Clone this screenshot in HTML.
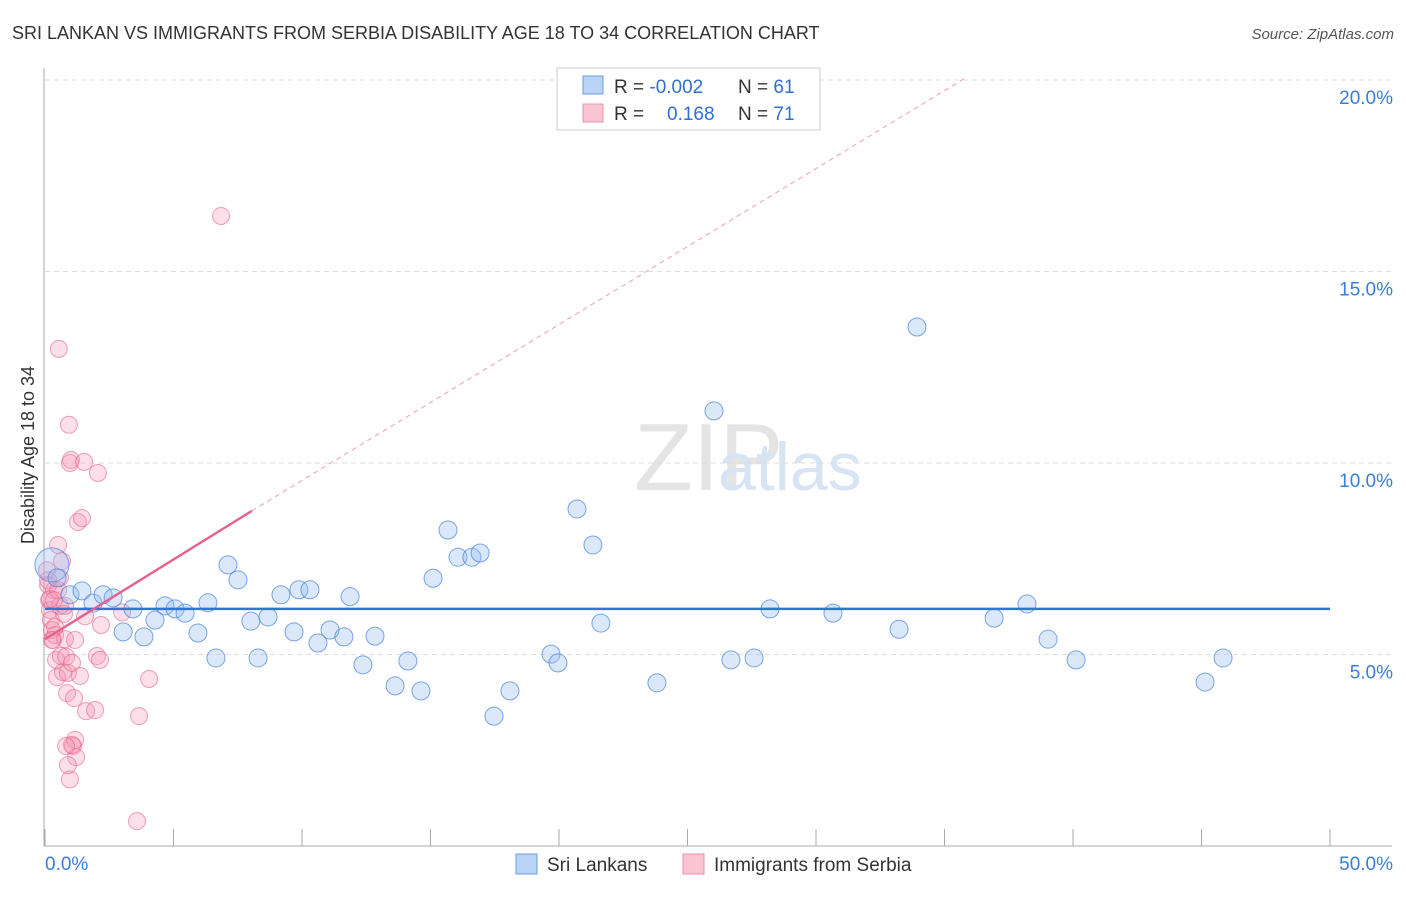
<!DOCTYPE html>
<html><head><meta charset="utf-8"><style>
body{margin:0;background:#fff;font-family:"Liberation Sans",sans-serif;}
svg text{font-family:"Liberation Sans",sans-serif;}
</style></head><body>
<svg width="1406" height="892" xmlns="http://www.w3.org/2000/svg">
<text x="12" y="39" font-size="18" fill="#333">SRI LANKAN VS IMMIGRANTS FROM SERBIA DISABILITY AGE 18 TO 34 CORRELATION CHART</text>
<text x="1394" y="39" font-size="15" fill="#555" font-style="italic" text-anchor="end">Source: ZipAtlas.com</text>
<text x="634" y="490" font-size="96" fill="#e4e4e4" font-family="Liberation Serif">ZIP</text>
<text x="718" y="490" font-size="68" fill="#d6e4f4">atlas</text>
<g id="grid"></g>
<g id="axes"></g>
<g id="pink"></g>
<g id="blue"></g>
<g id="lines"></g>
<text x="34" y="455" font-size="18" fill="#333" text-anchor="middle" transform="rotate(-90 34 455)">Disability Age 18 to 34</text>
<g>
<rect x="557" y="68" width="263" height="62" fill="#fff" stroke="#ccc"/>
<rect x="583" y="76" width="20" height="18" fill="#b8d3f5" stroke="#6a9ee0"/>
<rect x="583" y="104" width="20" height="18" fill="#f9c4d3" stroke="#ec8fab"/>
<text x="614" y="93" font-size="19" fill="#333">R = <tspan fill="#2f6fd6">-0.002</tspan></text>
<text x="738" y="93" font-size="19" fill="#333">N = <tspan fill="#2f6fd6">61</tspan></text>
<text x="614" y="120" font-size="19" fill="#333">R = <tspan fill="#2f6fd6" x="667">0.168</tspan></text>
<text x="738" y="120" font-size="19" fill="#333">N = <tspan fill="#2f6fd6">71</tspan></text>
</g>
<g>
<rect x="516" y="854" width="21" height="20" fill="#b8d3f5" stroke="#6a9ee0"/>
<text x="547" y="871" font-size="19" fill="#333">Sri Lankans</text>
<rect x="683" y="854" width="21" height="20" fill="#f9c4d3" stroke="#ec8fab"/>
<text x="714" y="871" font-size="19" fill="#333">Immigrants from Serbia</text>
</g>
</svg>
<script>
const xTicks=[0,5,10,15,20,25,30,35,40,45,50];
const yTicks=[5,10,15,20];
const yTickLabels=["5.0%","10.0%","15.0%","20.0%"];
const blueX=[0.27,0.47,0.97,1.44,1.87,2.26,2.65,3.04,3.42,3.85,4.28,4.67,5.06,5.45,5.95,6.34,6.65,7.12,7.51,8.01,8.29,8.68,9.18,9.69,9.88,10.31,10.62,11.09,11.63,11.87,12.37,12.84,13.62,14.12,14.63,15.10,15.68,16.07,16.61,16.93,17.47,18.09,19.69,19.96,20.70,21.32,21.63,23.81,26.03,26.69,27.59,28.21,30.66,33.23,33.93,36.93,38.21,39.03,40.12,45.14,45.84];
const blueY=[7.34,7.0,6.56,6.66,6.34,6.56,6.48,5.59,6.19,5.46,5.9,6.27,6.19,6.08,5.56,6.35,4.91,7.34,6.95,5.87,4.91,5.98,6.56,5.59,6.69,6.69,5.3,5.64,5.46,6.51,4.73,5.48,4.18,4.83,4.05,6.99,8.25,7.54,7.54,7.65,3.39,4.05,5.01,4.78,8.8,7.86,5.82,4.26,11.36,4.86,4.91,6.19,6.08,5.66,13.55,5.95,6.32,5.4,4.86,4.28,4.91];
const pinkX=[0.08,0.12,0.16,0.19,0.23,0.27,0.31,0.35,0.39,0.43,0.47,0.51,0.54,0.58,0.62,0.70,0.74,0.78,0.82,0.86,0.89,0.93,0.97,1.01,1.05,1.09,1.13,1.17,1.21,1.28,1.36,1.44,1.52,1.56,1.60,1.95,2.02,2.06,2.14,2.18,3.00,3.66,4.05,3.58,6.85,0.58,0.39,0.19,0.78,0.97,0.89,0.66,0.27,0.51,1.05,0.12,0.35,0.82,1.17];
const pinkY=[7.2,6.81,6.42,6.16,5.9,5.64,5.38,6.68,5.51,4.86,4.41,7.86,12.98,7.0,4.96,4.54,6.06,5.4,4.94,3.99,4.52,11.0,10.0,10.08,4.78,2.61,3.86,2.77,2.32,8.46,4.44,8.56,10.03,6.0,3.52,3.55,4.96,9.74,4.86,5.77,6.1,3.39,4.36,0.65,16.45,6.27,5.72,6.45,6.27,1.74,2.11,7.44,5.38,6.68,2.64,6.94,6.42,2.61,5.38];
const X=v=>45+v/50*1285, Y=v=>846-v*38.3;
const NS="http://www.w3.org/2000/svg";
function mk(t,a,p){const e=document.createElementNS(NS,t);for(const k in a)e.setAttribute(k,a[k]);document.getElementById(p).appendChild(e);return e;}
yTicks.forEach((v,i)=>{
 const g=mk('line',{x1:45,x2:1392,y1:Y(v),y2:Y(v),stroke:'#ddd','stroke-dasharray':'5,4'},'grid');
 
 
 const t=mk('text',{x:1393,y:Y(v)+24,'font-size':19,fill:'#3b7ddd','text-anchor':'end'},'axes');
 t.textContent=yTickLabels[i];
 
 
});
mk('line',{x1:44,x2:44,y1:68,y2:846,stroke:'#aaa'},'axes');
mk('line',{x1:44,x2:1392,y1:846,y2:846,stroke:'#aaa'},'axes');
xTicks.forEach(v=>{const l=mk('line',{x1:X(v),x2:X(v),y1:829,y2:846,stroke:'#aaa'},'axes');
 
 });
let t0=mk('text',{x:45,y:870,'font-size':19,fill:'#3b7ddd'},'axes');t0.textContent="0.0%";
let t1=mk('text',{x:1393,y:870,'font-size':19,fill:'#3b7ddd','text-anchor':'end'},'axes');t1.textContent="50.0%";
pinkX.forEach((x,i)=>{const c=mk('circle',{cx:X(x),cy:Y(pinkY[i]),r:8.5,fill:'rgba(244,150,180,0.3)',stroke:'rgba(230,100,140,0.6)'},'pink');
 
 });
blueX.forEach((x,i)=>{const c=mk('circle',{cx:X(x),cy:Y(blueY[i]),r:i==0?17:9,fill:'rgba(150,190,240,0.35)',stroke:'rgba(70,130,220,0.7)'},'blue');
 
 });
const bl=mk('line',{x1:45,x2:1330,y1:Y(6.19),y2:Y(6.19),stroke:'#2f74d6','stroke-width':2.5},'lines');


const pd=mk('line',{x1:X(8.05),y1:Y(8.75),x2:X(35.8),y2:Y(20.05),stroke:'#e8a0b6','stroke-dasharray':'5,4'},'lines');


const pl=mk('line',{x1:45,y1:Y(5.4),x2:X(8.05),y2:Y(8.75),stroke:'#e6628e','stroke-width':2.5},'lines');


</script>
</body></html>
